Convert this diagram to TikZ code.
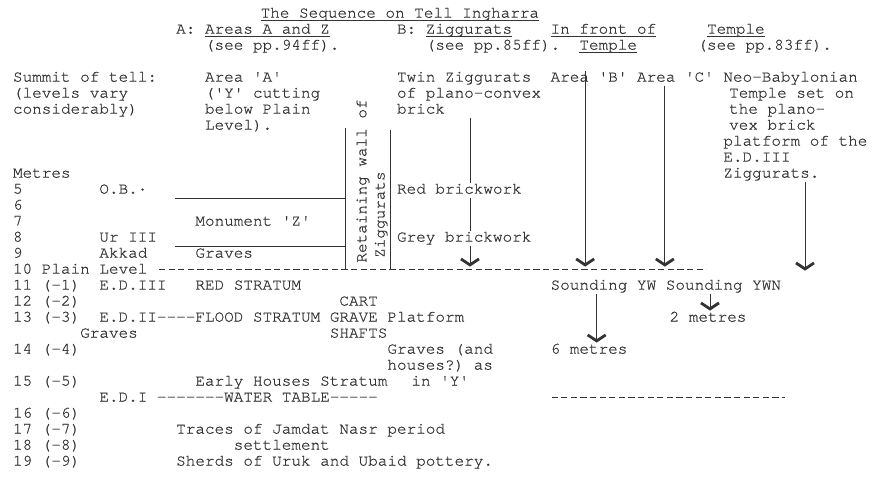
\documentclass[tikz,border=0pt]{standalone}
\usepackage{fontspec}
\setmonofont[Ligatures={NoCommon,NoRequired},FakeBold=0.6]{TeX Gyre Cursor}
\usetikzlibrary{arrows.meta}
\definecolor{ink}{HTML}{333333}
\tikzset{
  twbase/.style={font=\ttfamily\fontsize{16}{16}\selectfont,text=ink,anchor=base west,
                 inner sep=0pt,outer sep=0pt,text height=11pt,text depth=4pt},
  tw/.style={twbase,yshift=-4.6pt},
  twv/.style={twbase,rotate=90},
  rule/.style={draw=ink,line width=0.8pt},
  uline/.style={draw=ink,line width=0.9pt},
  typed/.style={draw=ink,line width=1.5pt,dash pattern=on 6.2pt off 3.4pt},
  drop/.style={draw=ink,line width=0.8pt,-{Straight Barb[length=6pt,width=18pt,line width=2.8pt]}},
}
\begin{document}
\begin{tikzpicture}[x=9.6pt,y=-16pt]
  \useasboundingbox[fill=white] (-1.354,-0.8125) rectangle (89.583,29.5);
  % heading
  \node[tw] (title) at (25.8,0) {The Sequence on Tell Ingharra};
  \node[tw] (hdA) at (17,1) {A:};
  \node[tw] (areasaz) at (20,1) {Areas A and Z};
  \node[tw] (hdB) at (40,1) {B:};
  \node[tw] (zigg) at (43,1) {Ziggurats};
  \node[tw] (front) at (56,1) {In front of};
  \node[tw] (temple) at (72.3,1) {Temple};
  \node[tw] (ppA) at (20,2) {(see pp.94ff).};
  \node[tw] (ppB) at (43,2) {(see pp.85ff).};
  \node[tw] (fronttemple) at (59,2) {Temple};
  \node[tw] (ppT) at (71.3,2) {(see pp.83ff).};
  \foreach \n in {title,areasaz,zigg,front,temple,fronttemple}
    \draw[uline] ([yshift=-3pt]\n.base west) -- ([yshift=-3pt]\n.base east);
  % column heads
  \node[tw] (summit1) at (0,4) {Summit of tell:};
  \node[tw] (summit2) at (0,5) {(levels vary};
  \node[tw] (summit3) at (0,6) {considerably)};
  \node[tw] (areaa1) at (20,4) {Area 'A'};
  \node[tw] (areaa2) at (20,5) {('Y' cutting};
  \node[tw] (areaa3) at (20,6) {below Plain};
  \node[tw] (areaa4) at (20,7) {Level).};
  \node[tw] (twin1) at (40,4) {Twin Ziggurats};
  \node[tw] (twin2) at (40,5) {of plano-convex};
  \node[tw] (twin3) at (40,6) {brick};
  \node[tw] (areab) at (56,4) {Area 'B'};
  \node[tw] (areac) at (65,4) {Area 'C'};
  \node[tw] (neob1) at (74,4) {Neo-Babylonian};
  \node[tw] (neob2) at (74.6,5) {Temple set on};
  \node[tw] (neob3) at (74.6,6) {the plano-};
  \node[tw] (neob4) at (74.6,7) {vex brick};
  \node[tw] (neob5) at (74,8) {platform of the};
  \node[tw] (neob6) at (74,9) {E.D.III};
  \node[tw] (neob7) at (74,10) {Ziggurats.};
  % metres scale
  \node[tw] (metres) at (0,10) {Metres};
  \foreach \r/\m/\t in {11/5/5,12/6/6,13/7/7,14/8/8,15/9/9,16/10/10 Plain Level,
      17/11/11 (-1),18/12/12 (-2),19/13/13 (-3),21/14/14 (-4),23/15/15 (-5),
      25/16/16 (-6),26/17/17 (-7),27/18/18 (-8),28/19/19 (-9)}
    \node[tw] (m\m) at (0,\r) {\t};
  % area A and Z
  \node[tw] (ob) at (9,11) {O.B.·};
  \node[tw] (monz) at (19,13) {Monument 'Z'};
  \node[tw] (ur) at (9,14) {Ur III};
  \node[tw] (akkad) at (9,15) {Akkad};
  \node[tw] (graves1) at (19,15) {Graves};
  \node[tw] (ed3) at (9,17) {E.D.III};
  \node[tw] (red) at (19,17) {RED STRATUM};
  \node[tw] (ed2) at (9,19) {E.D.II----FLOOD STRATUM};
  \node[tw] (graves2) at (7,20) {Graves};
  \node[tw] (cart) at (34,18) {CART};
  \node[tw] (grave) at (33,19) {GRAVE};
  \node[tw] (shafts) at (33,20) {SHAFTS};
  \node[tw] (houses) at (19,23) {Early Houses Stratum};
  \node[tw] (ed1) at (9,24) {E.D.I -------WATER TABLE-----};
  \node[tw] (jn1) at (17,26) {Traces of Jamdat Nasr period};
  \node[tw] (jn2) at (23,27) {settlement};
  \node[tw] (sherds) at (17,28) {Sherds of Uruk and Ubaid pottery.};
  % ziggurats
  \node[tw] (redbw) at (40,11) {Red brickwork};
  \node[tw] (greybw) at (40,14) {Grey brickwork};
  \node[tw] (platf) at (39,19) {Platform};
  \node[tw] (gr1) at (39,21) {Graves (and};
  \node[tw] (gr2) at (39,22) {houses?) as};
  \node[tw] (gr3) at (41.5,23) {in 'Y'};
  % soundings
  \node[tw] (sndyw) at (56,17) {Sounding YW};
  \node[tw] (sndywn) at (68,17) {Sounding YWN};
  \node[tw] (twom) at (68.4,19) {2 metres};
  \node[tw] (sixm) at (56,21) {6 metres};
  % retaining wall
  \coordinate (wallTL) at (34.58,7.19);
  \coordinate (wallBL) at (34.58,16.05);
  \coordinate (wallTR) at (39.27,7.31);
  \coordinate (wallBR) at (39.27,16.05);
  \draw[rule] (wallTL) -- (wallBL);
  \draw[rule] (wallTR) -- (wallBR);
  \node[twv] (wall1) at (36.8,15.6) {Retaining wall of};
  \node[twv] (wall2) at (38.7,15.3) {Ziggurats};
  \coordinate (obL) at (16.9,11.58);
  \coordinate (urL) at (16.9,14.56);
  \draw[rule] (obL) -- (obL -| wallTL);
  \draw[rule] (urL) -- (urL -| wallTL);
  % level lines
  \coordinate (plainL) at (15.2,16.03);
  \coordinate (plainR) at (72.2,16.03);
  \draw[typed] (plainL) -- (plainR);
  \coordinate (waterL) at (56.1,24.03);
  \coordinate (waterR) at (80.4,24.03);
  \draw[typed] (waterL) -- (waterR);
  % arrows
  \coordinate (zx) at (47.6,15.85);
  \coordinate (bx) at (59.6,15.85);
  \coordinate (cx) at (67.9,15.85);
  \coordinate (nx) at (82.5,16.1);
  \coordinate (ywx) at (60.8,0);
  \coordinate (ywnx) at (72.6,0);
  \draw[rule] (zx |- twin3.south) -- (zx |- redbw.north);
  \draw[rule] (zx |- redbw.south) -- (zx |- greybw.north);
  \draw[drop] (zx |- greybw.south) -- (zx);
  \draw[drop] (bx |- areab.north) -- (bx);
  \draw[drop] (cx |- areac.south) -- (cx);
  \draw[drop] (nx |- neob7.south) -- (nx);
  \draw[drop] (ywx |- sndyw.south) -- (ywx |- sixm.north);
  \draw[drop] (ywnx |- sndywn.south) -- (ywnx |- twom.north);
\end{tikzpicture}
\end{document}
